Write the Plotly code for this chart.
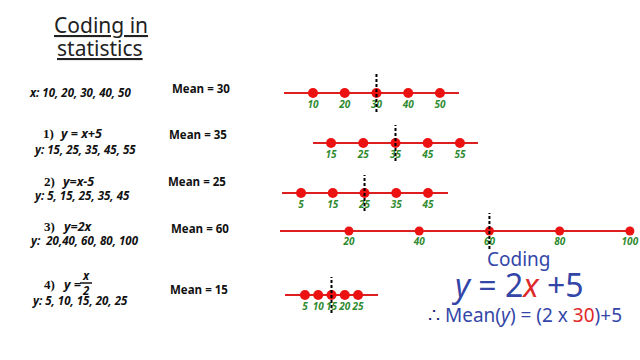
import plotly.graph_objects as go

# ---------------- data ----------------
x_values = [10, 20, 30, 40, 50]
y_plus5 = [15, 25, 35, 45, 55]
y_minus5 = [5, 15, 25, 35, 45]
y_times2 = [20, 40, 60, 80, 100]
y_half = [5, 10, 15, 20, 25]
series = [x_values, y_plus5, y_minus5, y_times2, y_half]
means = [sum(s) / len(s) for s in series]

list_labels = [
    "x: 10, 20, 30, 40, 50",
    "y: 15, 25, 35, 45, 55",
    "y: 5, 15, 25, 35, 45",
    "y:  20,40, 60, 80, 100",
    "y: 5, 10, 15, 20, 25",
]
rule_numbers = ["1)", "2)", "3)", "4)"]
rule_texts = ["y = x+5", "y=x-5", "y=2x", "y ="]

# ---------------- layout (pixel geometry of each number line) ----------------
W, H = 640, 360
rows = [
    dict(xd=(284, 459), xr=(0.87, 56.0), yd=(74, 112), size=10),
    dict(xd=(313, 478), xr=(9.4, 60.6), yd=(125, 161), size=10),
    dict(xd=(282, 448), xr=(-1.0, 51.3), yd=(175, 211), size=10),
    dict(xd=(280, 632), xr=(0.36, 100.6), yd=(213, 249), size=9),
    dict(xd=(285, 378), xr=(-2.5, 32.5), yd=(277, 313), size=10),
]
RED_LINE = "#dd1f1f"
RED_DOT = "#ec1212"
GREEN = "#2f8a2f"
BLUE = "#3346a8"
RED_TXT = "#e02828"

def px(x):
    return x / W

def py(y):
    return 1 - y / H

fig = go.Figure()
layout = dict(
    width=W, height=H, margin=dict(l=0, r=0, t=0, b=0),
    paper_bgcolor="white", plot_bgcolor="rgba(0,0,0,0)", showlegend=False,
)

for i, (vals, m, r) in enumerate(zip(series, means, rows)):
    k = "" if i == 0 else str(i + 1)
    xa, ya = "x" + k, "y" + k
    layout["xaxis" + k] = dict(
        domain=[px(r["xd"][0]), px(r["xd"][1])], range=list(r["xr"]),
        anchor=ya, showgrid=False, zeroline=False, showticklabels=False,
        showline=False, ticks="", fixedrange=True,
    )
    layout["yaxis" + k] = dict(
        domain=[py(r["yd"][1]), py(r["yd"][0])], range=[-1, 1],
        anchor=xa, showgrid=False, zeroline=True, zerolinecolor=RED_LINE,
        zerolinewidth=2, showticklabels=False, showline=False, ticks="",
        fixedrange=True,
    )
    fig.add_trace(go.Scatter(
        x=vals, y=[0] * len(vals), xaxis=xa, yaxis=ya,
        mode="markers+text", text=[str(v) for v in vals],
        textposition="bottom center",
        textfont=dict(family="Open Sans", size=10, color=GREEN, weight="bold", style="italic"),
        marker=dict(size=r["size"], color=RED_DOT), cliponaxis=False,
    ))
    fig.add_trace(go.Scatter(
        x=[m, m], y=[-1, 1], xaxis=xa, yaxis=ya, mode="lines",
        line=dict(color="black", width=2, dash="3px,2px"), cliponaxis=False,
    ))

fig.update_layout(**layout)

ann = []

def add(text, x, y, size, color="#111", family="Open Sans", weight="normal",
        style="normal", xanchor="left"):
    ann.append(dict(text=text, x=px(x), y=py(y), xref="paper", yref="paper",
                    xanchor=xanchor, yanchor="middle", showarrow=False,
                    font=dict(family=family, size=size, color=color,
                              weight=weight, style=style)))

# title
add("<u>Coding in</u>", 101, 25, 21, color="#222", family="Noto Sans", xanchor="center")
add("<u>statistics</u>", 100, 48, 21, color="#222", family="Noto Sans", xanchor="center")

# value lists
list_pos = [(27, 92), (32, 149), (32, 196), (28, 240), (30, 300)]
for t, (x, y) in zip(list_labels, list_pos):
    add(t, x, y, 11.5, weight="bold", style="italic")

# rule formulas
num_pos = [(41, 133), (42, 181), (42, 226), (42, 284)]
txt_pos = [(58, 133), (60, 181), (61, 226), (61, 284)]
for n, t, (nx, ny), (tx, ty) in zip(rule_numbers, rule_texts, num_pos, txt_pos):
    add(n, nx, ny, 13, family="Liberation Serif", weight="bold")
    add(t, tx, ty, 12.5, weight="bold", style="italic")
# fraction x/2
add("x<br>2", 86, 283, 11.5, weight="bold", style="italic", xanchor="center")
fig.add_shape(type="line", xref="paper", yref="paper", x0=px(80), x1=px(92),
              y0=py(283), y1=py(283), line=dict(color="#111", width=1.5))

# mean labels
mean_pos = [(170, 88), (167, 134), (166, 181), (169, 228), (168, 289)]
for m, (x, y) in zip(means, mean_pos):
    add(f"Mean = {m:g}", x, y, 11.5, weight="bold")

# coding explanation
add("Coding", 485, 259, 19, color=BLUE, family="Noto Sans")
add(f"<i>y</i> = 2<span style='color:{RED_TXT}'><i>x</i></span> +5", 449, 284, 32,
    color=BLUE, family="Noto Sans")
add("<span style='color:#1c1c7a'>∴</span> Mean(<i>y</i>) = (2 x "
    f"<span style='color:{RED_TXT}'>{means[0]:g}</span>)+5", 426, 315, 19,
    color=BLUE, family="Noto Sans")

fig.update_layout(annotations=ann)
fig.write_html("out.html")
